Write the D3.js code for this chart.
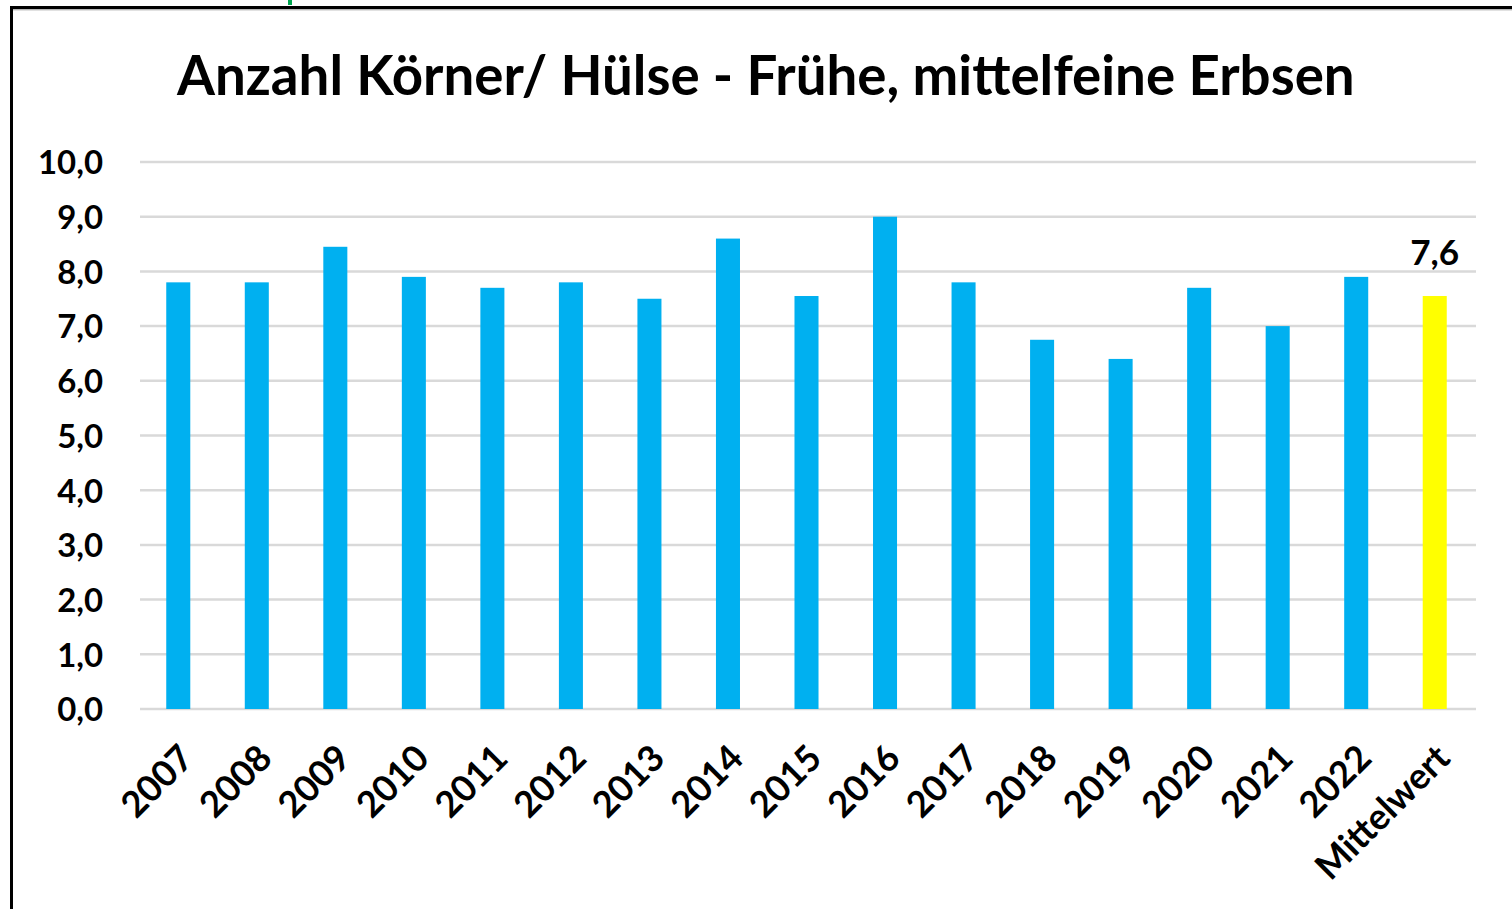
<!DOCTYPE html>
<html>
<head>
<meta charset="utf-8">
<script src="https://cdn.jsdelivr.net/npm/d3@7"></script>
<style>
  html, body { margin: 0; padding: 0; background: #fff; }
  svg { display: block; }
  text { font-family: Lato, "Open Sans", sans-serif; font-weight: bold; fill: #000; }
</style>
</head>
<body>
<svg id="chart" width="1512" height="909"></svg>
<script>
const categories = ["2007","2008","2009","2010","2011","2012","2013","2014","2015","2016","2017","2018","2019","2020","2021","2022","Mittelwert"];
const values = [7.8, 7.8, 8.45, 7.9, 7.7, 7.8, 7.5, 8.6, 7.55, 9.0, 7.8, 6.75, 6.4, 7.7, 7.0, 7.9, 7.55];
const yTicks = [0,1,2,3,4,5,6,7,8,9,10];
const meanLabel = "7,6";
const title = "Anzahl Körner/ Hülse - Frühe, mittelfeine Erbsen";

const svg = d3.select("#chart");
const fmt = v => d3.format(".1f")(v).replace(".", ",");

// frame
svg.append("rect").attr("x", 11.5).attr("y", 7.5).attr("width", 1600).attr("height", 1000)
  .attr("fill", "#fff").attr("stroke", "#000").attr("stroke-width", 3);
svg.append("line").attr("x1", 13).attr("x2", 1512).attr("y1", 9.8).attr("y2", 9.8)
  .attr("stroke", "#999").attr("stroke-width", 1);
svg.append("rect").attr("x", 288).attr("y", 0).attr("width", 4).attr("height", 5).attr("fill", "#00a651");

const x = d3.scaleBand().domain(categories).range([140, 1475]).padding(0);
const y = d3.scaleLinear().domain([0, 10]).range([709, 162]);
const barW = x.bandwidth() * 0.306;

// gridlines
svg.append("g").selectAll("line").data(yTicks).join("line")
  .attr("x1", 140).attr("x2", 1476)
  .attr("y1", d => y(d)).attr("y2", d => y(d))
  .attr("stroke", "#d9d9d9").attr("stroke-width", 2.5);

// bars
svg.append("g").selectAll("rect").data(categories).join("rect")
  .attr("x", d => x(d) + x.bandwidth()/2 - barW/2 - 1)
  .attr("width", barW)
  .attr("y", (d, i) => y(values[i]))
  .attr("height", (d, i) => y(0) - y(values[i]))
  .attr("fill", d => d === "Mittelwert" ? "#ffff00" : "#00b0f0");

// fit helper
function fitWidth(sel, target) {
  const node = sel.node();
  let fs = parseFloat(sel.attr("font-size"));
  const w = node.getComputedTextLength();
  sel.attr("font-size", fs * target / w);
  return fs * target / w;
}

// y axis labels
const yAxis = d3.axisLeft(y).tickValues(yTicks).tickFormat(fmt).tickSize(0).tickPadding(0);
const gy = svg.append("g").attr("transform", "translate(103,0)").call(yAxis);
gy.select(".domain").remove();
const probe = gy.select(".tick:last-of-type text").attr("font-size", 28);
const tickFs = fitWidth(probe, 65);
gy.selectAll("text").attr("font-size", tickFs).attr("font-family", null)
  .attr("fill", "#000").attr("dy", "0.36em").attr("x", 0);

// x axis labels
const xAxis = d3.axisBottom(x).tickSize(0).tickPadding(0);
const gx = svg.append("g").attr("transform", "translate(0,709)").call(xAxis);
gx.select(".domain").remove();
gx.selectAll("text")
  .attr("font-size", tickFs * 1.1).attr("font-family", null).attr("fill", "#000")
  .attr("text-anchor", "end").attr("dy", null).attr("y", 0)
  .attr("transform", "translate(-4,31) rotate(-45)")
  .attr("dominant-baseline", "hanging");

// data label for mean
const last = categories[categories.length - 1];
const lbl = svg.append("text").attr("x", x(last) + x.bandwidth()/2 - 1)
  .attr("y", y(values[values.length - 1]) - 31)
  .attr("text-anchor", "middle").attr("font-size", 28).text(meanLabel);
fitWidth(lbl, 49);

// title
const t = svg.append("text").attr("x", 177).attr("y", 95).attr("font-size", 44).text(title);
fitWidth(t, 1178);
</script>
</body>
</html>
